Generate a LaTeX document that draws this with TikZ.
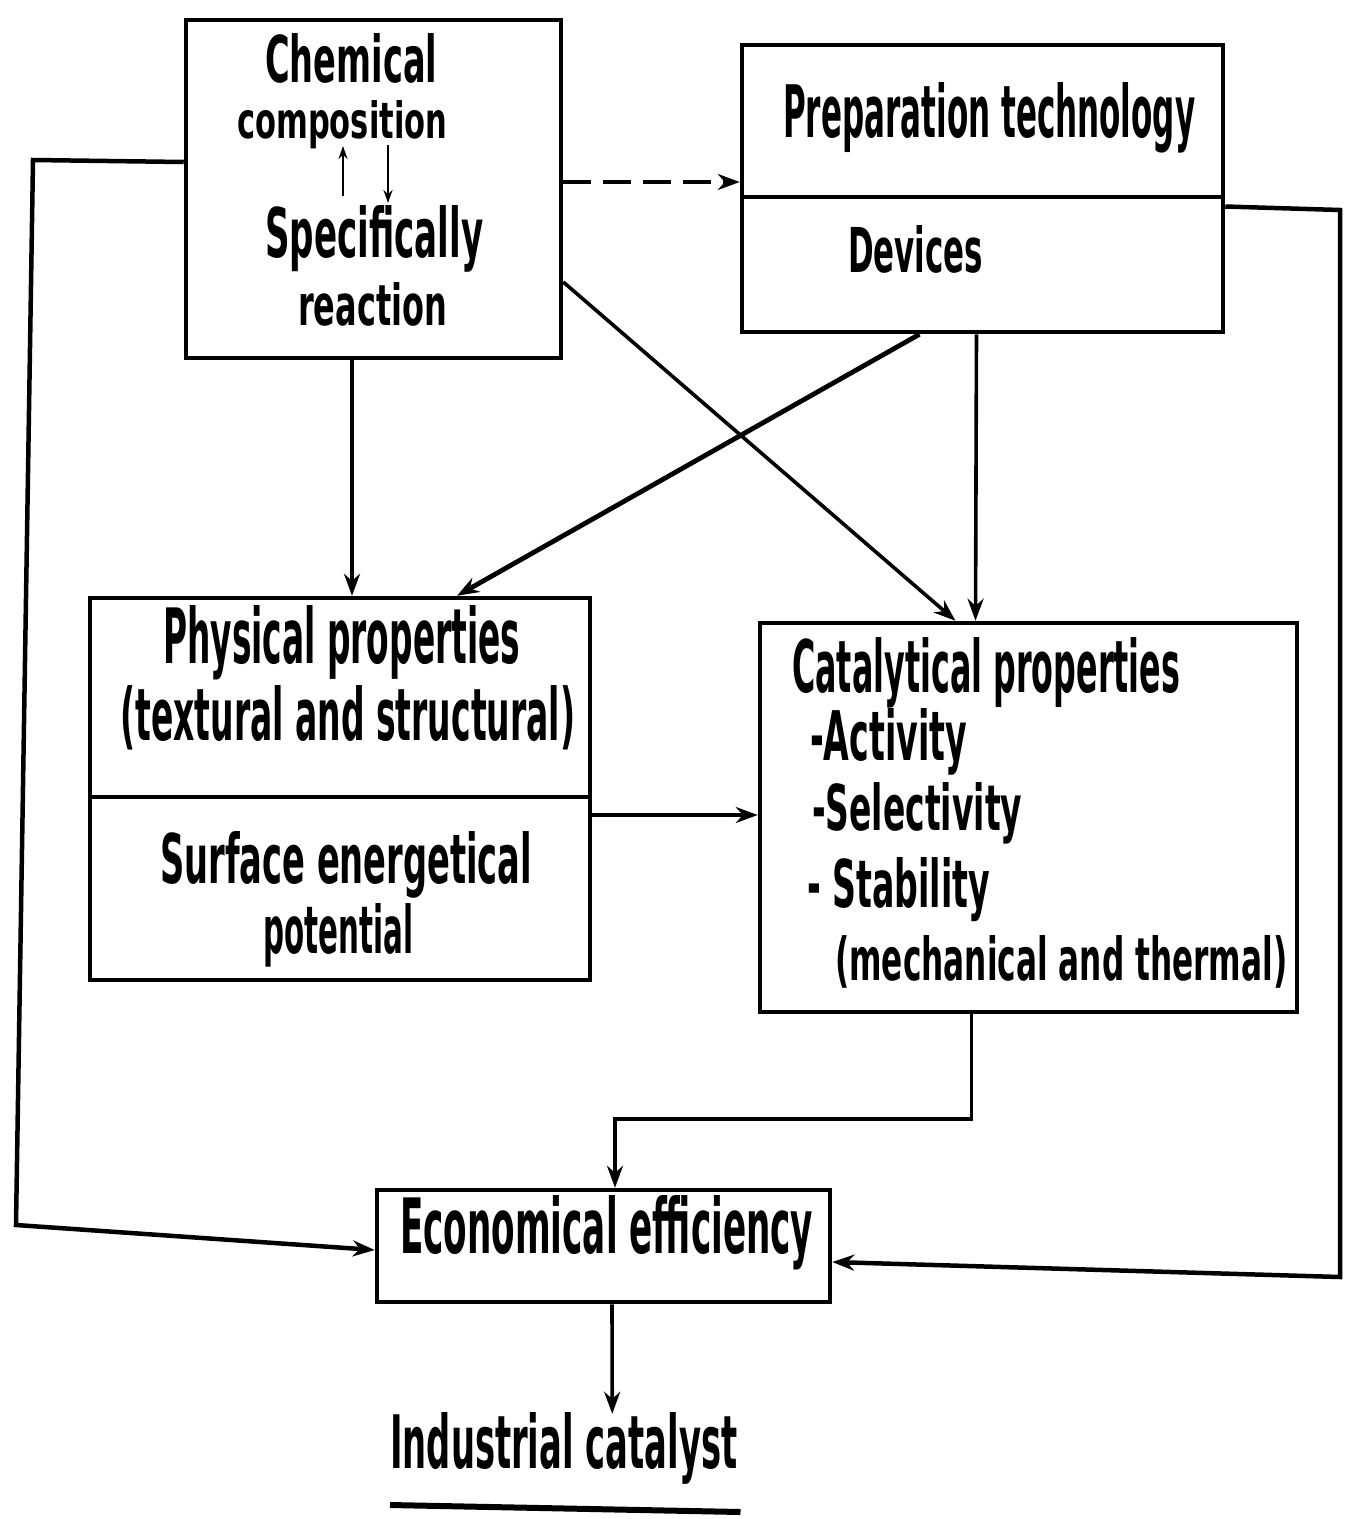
\documentclass[tikz,border=0pt]{standalone}
\usepackage{fontspec}
\setmainfont{DejaVu Sans}
\usepackage{graphicx}
\usetikzlibrary{arrows.meta,calc}
\newcommand{\fitt}[3]{\resizebox{#1pt}{#2pt}{\bfseries #3}}
\begin{document}
\begin{tikzpicture}[x=1pt,y=-1pt,
  box/.style={draw,line width=4.5pt,inner sep=0pt},
  txt/.style={inner sep=0pt,anchor=base west},
  conn/.style={line width=3.6pt,-{Stealth[length=22pt,width=16pt]}},
  plain/.style={line width=4.5pt},
  small/.style={line width=2.8pt,-{Stealth[length=13pt,width=9pt]}}]
\useasboundingbox (0,0) rectangle (1349,1519);

% boxes
\node[box,minimum width=375pt,minimum height=338pt] (chem) at (373.5,189) {};
\node[box,minimum width=481pt,minimum height=287pt] (prep) at (982.5,188.5) {};
\node[box,minimum width=500pt,minimum height=382pt] (phys) at (340,789) {};
\node[box,minimum width=537pt,minimum height=389pt] (cat) at (1028.5,817.5) {};
\node[box,minimum width=453pt,minimum height=112pt] (econ) at (603.5,1246) {};

% dividers
\draw[plain] (prep.west |- 0,197) -- (prep.east |- 0,197);
\draw[plain] (phys.west |- 0,797) -- (phys.east |- 0,797);

% texts
\node[txt] (t1) at (265,82) {\fitt{172}{49}{Chemical}};
\node[txt] (comp) at (237,138) {\fitt{210}{38}{composition}};
\node[txt] (spec) at (265,257) {\fitt{218}{52}{Specifically}};
\node[txt] (t4) at (298,325) {\fitt{149}{43}{reaction}};
\node[txt] (t5) at (783,137) {\fitt{412}{55}{Preparation technology}};
\node[txt] (t6) at (848,272) {\fitt{135}{47}{Devices}};
\node[txt] (t7) at (163,663) {\fitt{357}{58}{Physical properties}};
\node[txt] (t8) at (120,740) {\fitt{455}{55}{(textural and structural)}};
\node[txt] (t9) at (160,883) {\fitt{372}{52}{Surface energetical}};
\node[txt] (t10) at (263,953) {\fitt{150}{50}{potential}};
\node[txt] (t11) at (792,692) {\fitt{388}{55}{Catalytical properties}};
\node[txt] (t12) at (810,760) {\fitt{157}{52}{-Activity}};
\node[txt] (t13) at (812,830) {\fitt{210}{48}{-Selectivity}};
\node[txt] (t14) at (807,907) {\fitt{183}{50}{- Stability}};
\node[txt] (t15) at (835,980) {\fitt{452}{45}{(mechanical and thermal)}};
\node[txt] (t16) at (400,1253) {\fitt{413}{58}{Economical efficiency}};
\node[txt] (ind) at (390,1468) {\fitt{347}{56}{Industrial catalyst}};

% small arrows inside the chemical box
\coordinate (ua) at (343,196);
\coordinate (ub) at (343,146);
\coordinate (da) at (388,145);
\coordinate (db) at (388,203);
\draw[small] (ua) -- (ub);
\draw[small] (da) -- (db);

% dashed arrow chem -> prep
\coordinate (d1) at ($(chem.east)+(0,-7)$);
\draw[conn,dash pattern=on 28pt off 12pt] (d1) -- (d1 -| prep.west);

% left loop chem -> econ
\coordinate (l1) at ($(chem.west)+(0,-27)$);
\draw[conn,line width=4.5pt] (l1) -- (33,160) -- (16,1225) -- ($(econ.west)+(0,4)$);

% right loop prep -> econ
\coordinate (r1) at ($(prep.east)+(0,18)$);
\draw[conn,line width=4.5pt] (r1) -- (1340,210) -- (1340,1277) -- ($(econ.east)+(0,16)$);

% chem -> phys
\draw[conn] ($(chem.south)+(-21.5,0)$) -- ($(phys.north)+(12,0)$);
% chem -> cat
\draw[conn] ($(chem.east)+(0,93)$) -- ($(cat.north)+(-73,0)$);
% prep -> phys
\draw[conn,line width=4.8pt] ($(prep.south)+(-63,0)$) -- ($(phys.north)+(117,0)$);
% prep -> cat
\draw[conn] ($(prep.south)+(-6,0)$) -- ($(cat.north)+(-53,0)$);
% phys -> cat
\coordinate (p1) at ($(phys.east)+(0,26)$);
\draw[conn] (p1) -- (p1 -| cat.west);
% cat -> econ
\draw[conn] ($(cat.south)+(-57,0)$) -- ++(0,105) -| ($(econ.north)+(11.5,0)$);
% econ -> industrial catalyst
\draw[conn] ($(econ.south)+(8.5,0)$) -- ($(ind.north)+(48.5,2)$);
% underline
\draw[line width=6pt] ($(ind.base west)+(0,37)$) -- ($(ind.base east)+(3,44)$);
\end{tikzpicture}
\end{document}
